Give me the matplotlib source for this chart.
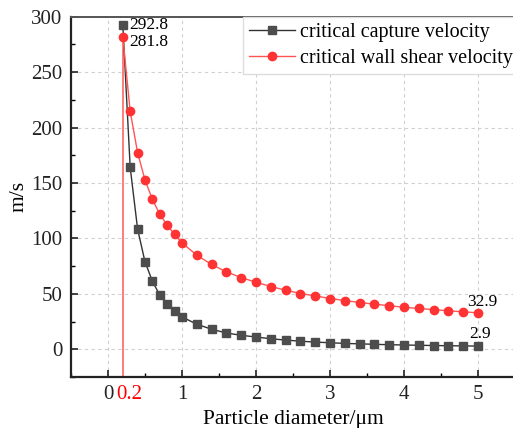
import matplotlib
matplotlib.use("Agg")
import matplotlib.pyplot as plt
import matplotlib.transforms as mtransforms
from matplotlib.ticker import MultipleLocator, FixedLocator

plt.rcParams['font.family'] = ['Liberation Serif', 'DejaVu Serif']
plt.rcParams['mathtext.fontset'] = 'stix'

diameter = [0.2, 0.3, 0.4, 0.5, 0.6, 0.7, 0.8, 0.9, 1.0, 1.2, 1.4, 1.6, 1.8, 2.0,
            2.2, 2.4, 2.6, 2.8, 3.0, 3.2, 3.4, 3.6, 3.8, 4.0, 4.2, 4.4, 4.6, 4.8, 5.0]
capture_velocity = [292.8, 164.0, 108.4, 78.9, 61.4, 48.8, 40.4, 34.1, 29.2, 22.6, 18.1,
                    14.7, 12.6, 11.1, 9.5, 8.3, 7.3, 6.5, 5.9, 5.3, 4.9, 4.5, 4.1,
                    3.9, 3.6, 3.4, 3.2, 3.05, 2.9]
wall_shear_velocity = [281.8, 214.5, 177.4, 152.7, 135.2, 121.7, 112.0, 103.6, 96.0, 84.9,
                       76.5, 69.8, 64.7, 60.5, 56.6, 53.3, 50.3, 48.2, 45.8, 44.0, 42.2,
                       40.7, 39.3, 37.9, 36.8, 35.8, 34.7, 33.8, 32.9]
series_labels = ['critical capture velocity', 'critical wall shear velocity']
x_ticks = [0, 0.2, 1, 2, 3, 4, 5]
x_tick_labels = ['0', '0.2', '1', '2', '3', '4', '5']
y_ticks = [0, 50, 100, 150, 200, 250, 300]

W, H = 513, 428
fig = plt.figure(figsize=(W / 100, H / 100), dpi=100)
ax = fig.add_axes([71 / W, 51 / H, (515 - 71) / W, (377 - 16.7) / H])

ax.set_xlim(-0.5, 5.5)
ax.set_ylim(-25, 300)

ax.grid(True, which='major', color='#d0d0d0', linestyle=(0, (3, 3)), linewidth=0.8)
ax.set_axisbelow(True)

ax.vlines(diameter[0], -25, wall_shear_velocity[0], color='#ff6666', linewidth=1.2, zorder=2)

ax.plot(diameter, capture_velocity, color='#333333', linewidth=1.0, marker='s',
        markersize=5.2, markerfacecolor='#4d4d4d', markeredgecolor='#4d4d4d',
        label=series_labels[0], zorder=3)
ax.plot(diameter, wall_shear_velocity, color='#ff5555', linewidth=1.0, marker='o',
        markersize=6, markerfacecolor='#ff3333', markeredgecolor='#ff3333',
        label=series_labels[1], zorder=3)

ax.set_xticks(x_ticks)
ax.set_xticklabels(x_tick_labels)
ax.xaxis.set_minor_locator(FixedLocator([-0.5, 0.5, 1.5, 2.5, 3.5, 4.5]))
ax.set_yticks(y_ticks)
ax.yaxis.set_minor_locator(MultipleLocator(25))

ax.tick_params(axis='both', which='major', direction='in', length=5, width=1.2,
               labelsize=15, pad=6, colors='#222222')
ax.tick_params(axis='both', which='minor', direction='in', length=3, width=1.0)

tick02 = ax.xaxis.get_major_ticks()[1]
tick02.tick1line.set_visible(False)
tick02.gridline.set_visible(False)
for lbl in ax.get_xticklabels():
    if lbl.get_text() == '0.2':
        lbl.set_color('red')
        lbl.set_transform(lbl.get_transform() +
                          mtransforms.ScaledTranslation(6 / 100, 0, fig.dpi_scale_trans))

for side in ['left', 'bottom']:
    ax.spines[side].set_linewidth(1.6)
    ax.spines[side].set_color('#222222')
ax.spines['top'].set_linewidth(1.4)
ax.spines['top'].set_color('#555555')
ax.spines['right'].set_visible(False)

ax.set_xlabel('Particle diameter/μm', fontsize=15.5, labelpad=4)
ax.set_ylabel('m/s', fontsize=15.5, labelpad=2)

ax.annotate(f'{capture_velocity[0]}', (diameter[0], capture_velocity[0]), xytext=(5, 0),
            textcoords='offset points', va='center', ha='left', fontsize=12.5)
ax.annotate(f'{wall_shear_velocity[0]}', (diameter[0], wall_shear_velocity[0]), xytext=(5, -4),
            textcoords='offset points', va='center', ha='left', fontsize=12.5)
ax.annotate(f'{wall_shear_velocity[-1]}', (diameter[-1], wall_shear_velocity[-1]),
            xytext=(-8, 8), textcoords='offset points', va='center', ha='left', fontsize=12.5)
ax.annotate(f'{capture_velocity[-1]}', (diameter[-1], capture_velocity[-1]),
            xytext=(-6, 8.5), textcoords='offset points', va='center', ha='left', fontsize=12.5)

leg = ax.legend(loc='upper left', bbox_to_anchor=(243 / W, 1 - 17 / H),
                bbox_transform=fig.transFigure, fontsize=14.5, frameon=True, fancybox=False,
                borderaxespad=0, handlelength=2.3, handletextpad=0.25, borderpad=0.3,
                labelspacing=0.35, framealpha=1)
leg.get_frame().set_edgecolor('#dddddd')
leg.get_frame().set_linewidth(1.0)

fig.savefig('out.png', dpi=100)
